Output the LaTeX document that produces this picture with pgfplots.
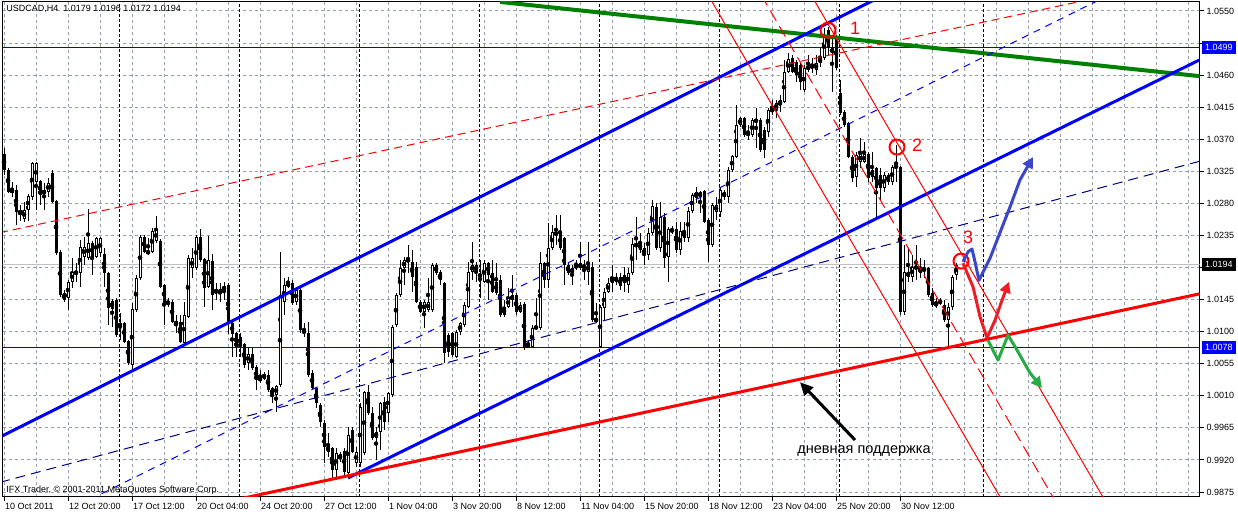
\documentclass[border=0pt]{standalone}
\usepackage{pgfplots}
\pgfplotsset{compat=1.18}
\usepackage{pgfplotstable}
\usepackage{fontspec}
\setmainfont{Liberation Sans}
\usetikzlibrary{arrows.meta}

\definecolor{mtgreen}{RGB}{0,128,0}
\definecolor{lsgray}{RGB}{150,160,175}
\definecolor{navyb}{RGB}{0,0,128}
\definecolor{pricegray}{RGB}{192,192,192}
\definecolor{penblue}{RGB}{60,70,200}
\definecolor{penred}{RGB}{235,30,40}
\definecolor{pengreen}{RGB}{40,170,70}

% USDCAD H4 candles: bar index, open, high, low, close
\pgfplotstableread{
i O H L C
0 1.0349 1.0358 1.0320 1.0327
1 1.0327 1.0330 1.0295 1.0296
2 1.0295 1.0310 1.0289 1.0300
3 1.0299 1.0306 1.0250 1.0268
4 1.0271 1.0278 1.0255 1.0264
5 1.0258 1.0282 1.0254 1.0271
6 1.0271 1.0293 1.0255 1.0290
7 1.0289 1.0338 1.0285 1.0337
8 1.0310 1.0338 1.0271 1.0337
9 1.0311 1.0313 1.0278 1.0292
10 1.0293 1.0309 1.0271 1.0299
11 1.0296 1.0316 1.0289 1.0309
12 1.0323 1.0327 1.0281 1.0282
13 1.0284 1.0285 1.0208 1.0210
14 1.0212 1.0215 1.0149 1.0151
15 1.0154 1.0158 1.0142 1.0144
16 1.0147 1.0172 1.0130 1.0170
17 1.0170 1.0203 1.0161 1.0184
18 1.0181 1.0196 1.0170 1.0184
19 1.0182 1.0229 1.0163 1.0219
20 1.0205 1.0233 1.0194 1.0219
21 1.0203 1.0272 1.0201 1.0224
22 1.0224 1.0227 1.0180 1.0205
23 1.0205 1.0233 1.0203 1.0232
24 1.0210 1.0233 1.0205 1.0232
25 1.0209 1.0217 1.0163 1.0182
26 1.0182 1.0184 1.0109 1.0133
27 1.0143 1.0146 1.0107 1.0132
28 1.0144 1.0147 1.0093 1.0095
29 1.0112 1.0126 1.0088 1.0107
30 1.0112 1.0114 1.0084 1.0086
31 1.0087 1.0088 1.0053 1.0056
32 1.0053 1.0140 1.0043 1.0132
33 1.0130 1.0180 1.0128 1.0175
34 1.0175 1.0236 1.0172 1.0233
35 1.0233 1.0236 1.0210 1.0212
36 1.0213 1.0232 1.0208 1.0210
37 1.0212 1.0246 1.0210 1.0241
38 1.0227 1.0262 1.0224 1.0243
39 1.0227 1.0230 1.0161 1.0163
40 1.0166 1.0167 1.0109 1.0140
41 1.0142 1.0147 1.0135 1.0139
42 1.0142 1.0144 1.0112 1.0114
43 1.0115 1.0123 1.0098 1.0109
44 1.0114 1.0123 1.0084 1.0086
45 1.0084 1.0142 1.0081 1.0123
46 1.0121 1.0208 1.0119 1.0203
47 1.0189 1.0217 1.0175 1.0203
48 1.0189 1.0236 1.0187 1.0233
49 1.0233 1.0244 1.0198 1.0201
50 1.0202 1.0203 1.0135 1.0161
51 1.0163 1.0234 1.0161 1.0201
52 1.0199 1.0209 1.0130 1.0151
53 1.0160 1.0168 1.0144 1.0154
54 1.0153 1.0168 1.0142 1.0160
55 1.0158 1.0170 1.0144 1.0164
56 1.0166 1.0168 1.0097 1.0112
57 1.0112 1.0114 1.0064 1.0097
58 1.0098 1.0100 1.0064 1.0079
59 1.0093 1.0098 1.0064 1.0081
60 1.0083 1.0084 1.0049 1.0053
61 1.0056 1.0079 1.0046 1.0069
62 1.0069 1.0077 1.0046 1.0049
63 1.0050 1.0053 1.0018 1.0032
64 1.0035 1.0046 1.0028 1.0032
65 1.0034 1.0043 1.0032 1.0041
66 1.0039 1.0046 1.0015 1.0018
67 1.0021 1.0022 1.0000 1.0011
68 1.0011 1.0025 0.9987 1.0024
69 1.0025 1.0212 1.0022 1.0151
70 1.0142 1.0175 1.0123 1.0166
71 1.0163 1.0177 1.0161 1.0170
72 1.0168 1.0172 1.0137 1.0140
73 1.0142 1.0163 1.0137 1.0158
74 1.0158 1.0161 1.0098 1.0102
75 1.0102 1.0112 1.0093 1.0098
76 1.0098 1.0114 1.0036 1.0039
77 1.0042 1.0046 1.0018 1.0021
78 1.0021 1.0022 0.9993 1.0000
79 0.9997 1.0000 0.9966 0.9973
80 0.9972 0.9976 0.9916 0.9938
81 0.9940 0.9958 0.9924 0.9931
82 0.9937 0.9938 0.9895 0.9906
83 0.9906 0.9937 0.9892 0.9930
84 0.9921 0.9931 0.9917 0.9928
85 0.9933 0.9937 0.9899 0.9903
86 0.9902 0.9966 0.9896 0.9955
87 0.9962 0.9966 0.9930 0.9931
88 0.9916 0.9938 0.9910 0.9931
89 0.9916 1.0000 0.9910 0.9994
90 0.9930 1.0017 0.9927 1.0015
91 1.0015 1.0025 0.9983 0.9986
92 0.9986 0.9994 0.9948 0.9951
93 0.9951 0.9966 0.9920 0.9959
94 0.9959 1.0001 0.9934 1.0000
95 1.0001 1.0008 0.9962 0.9973
96 0.9986 1.0015 0.9973 1.0014
97 1.0011 1.0109 1.0008 1.0107
98 1.0109 1.0154 1.0107 1.0151
99 1.0151 1.0201 1.0149 1.0189
100 1.0189 1.0205 1.0166 1.0201
101 1.0202 1.0222 1.0182 1.0198
102 1.0198 1.0215 1.0156 1.0177
103 1.0191 1.0198 1.0140 1.0142
104 1.0142 1.0144 1.0126 1.0128
105 1.0128 1.0144 1.0105 1.0142
106 1.0130 1.0175 1.0128 1.0142
107 1.0130 1.0196 1.0128 1.0194
108 1.0194 1.0196 1.0180 1.0182
109 1.0184 1.0187 1.0166 1.0172
110 1.0168 1.0170 1.0056 1.0070
111 1.0095 1.0098 1.0064 1.0072
112 1.0098 1.0100 1.0064 1.0067
113 1.0064 1.0102 1.0063 1.0100
114 1.0100 1.0114 1.0095 1.0112
115 1.0109 1.0142 1.0107 1.0137
116 1.0135 1.0198 1.0133 1.0184
117 1.0184 1.0226 1.0172 1.0194
118 1.0194 1.0198 1.0170 1.0184
119 1.0177 1.0201 1.0147 1.0181
120 1.0170 1.0201 1.0168 1.0196
121 1.0196 1.0198 1.0144 1.0180
122 1.0182 1.0201 1.0154 1.0156
123 1.0170 1.0196 1.0151 1.0154
124 1.0172 1.0180 1.0121 1.0123
125 1.0135 1.0144 1.0121 1.0123
126 1.0135 1.0161 1.0133 1.0147
127 1.0144 1.0180 1.0135 1.0151
128 1.0151 1.0154 1.0123 1.0128
129 1.0128 1.0142 1.0126 1.0137
130 1.0139 1.0142 1.0074 1.0077
131 1.0081 1.0088 1.0077 1.0079
132 1.0079 1.0109 1.0077 1.0105
133 1.0105 1.0147 1.0102 1.0107
134 1.0105 1.0212 1.0102 1.0196
135 1.0196 1.0198 1.0161 1.0172
136 1.0172 1.0253 1.0161 1.0217
137 1.0217 1.0250 1.0215 1.0240
138 1.0239 1.0264 1.0222 1.0236
139 1.0239 1.0264 1.0215 1.0217
140 1.0232 1.0233 1.0166 1.0194
141 1.0194 1.0198 1.0180 1.0182
142 1.0182 1.0194 1.0166 1.0189
143 1.0189 1.0201 1.0187 1.0194
144 1.0189 1.0226 1.0187 1.0196
145 1.0194 1.0201 1.0172 1.0189
146 1.0184 1.0226 1.0166 1.0194
147 1.0191 1.0198 1.0114 1.0116
148 1.0119 1.0140 1.0112 1.0114
149 1.0079 1.0137 1.0077 1.0135
150 1.0133 1.0161 1.0116 1.0156
151 1.0156 1.0175 1.0154 1.0168
152 1.0168 1.0194 1.0156 1.0177
153 1.0177 1.0182 1.0166 1.0170
154 1.0177 1.0182 1.0158 1.0164
155 1.0180 1.0191 1.0156 1.0168
156 1.0166 1.0189 1.0154 1.0182
157 1.0182 1.0232 1.0180 1.0223
158 1.0219 1.0261 1.0201 1.0224
159 1.0224 1.0239 1.0210 1.0215
160 1.0217 1.0224 1.0194 1.0208
161 1.0208 1.0246 1.0201 1.0239
162 1.0239 1.0285 1.0236 1.0276
163 1.0275 1.0281 1.0215 1.0217
164 1.0217 1.0282 1.0212 1.0261
165 1.0261 1.0267 1.0189 1.0203
166 1.0205 1.0247 1.0170 1.0244
167 1.0244 1.0248 1.0237 1.0240
168 1.0244 1.0254 1.0210 1.0215
169 1.0215 1.0254 1.0208 1.0241
170 1.0241 1.0254 1.0226 1.0232
171 1.0232 1.0275 1.0226 1.0269
172 1.0269 1.0295 1.0267 1.0292
173 1.0288 1.0303 1.0281 1.0296
174 1.0289 1.0297 1.0267 1.0296
175 1.0297 1.0299 1.0253 1.0254
176 1.0257 1.0260 1.0198 1.0222
177 1.0222 1.0281 1.0219 1.0278
178 1.0268 1.0289 1.0257 1.0278
179 1.0268 1.0302 1.0261 1.0299
180 1.0289 1.0299 1.0285 1.0296
181 1.0289 1.0331 1.0281 1.0327
182 1.0327 1.0348 1.0324 1.0346
183 1.0345 1.0418 1.0344 1.0390
184 1.0390 1.0401 1.0387 1.0400
185 1.0400 1.0401 1.0373 1.0376
186 1.0379 1.0390 1.0369 1.0376
187 1.0376 1.0400 1.0373 1.0397
188 1.0398 1.0414 1.0358 1.0394
189 1.0397 1.0400 1.0352 1.0355
190 1.0383 1.0387 1.0344 1.0355
191 1.0380 1.0414 1.0373 1.0411
192 1.0408 1.0425 1.0404 1.0414
193 1.0411 1.0425 1.0400 1.0421
194 1.0418 1.0432 1.0408 1.0425
195 1.0422 1.0481 1.0421 1.0464
196 1.0464 1.0491 1.0463 1.0483
197 1.0484 1.0488 1.0463 1.0464
198 1.0478 1.0481 1.0450 1.0460
199 1.0474 1.0477 1.0439 1.0450
200 1.0439 1.0474 1.0436 1.0470
201 1.0467 1.0488 1.0464 1.0474
202 1.0470 1.0484 1.0463 1.0474
203 1.0467 1.0488 1.0460 1.0477
204 1.0477 1.0498 1.0471 1.0484
205 1.0484 1.0526 1.0481 1.0516
206 1.0523 1.0528 1.0488 1.0498
207 1.0491 1.0516 1.0436 1.0498
208 1.0512 1.0516 1.0467 1.0470
209 1.0435 1.0453 1.0404 1.0407
210 1.0408 1.0411 1.0387 1.0390
211 1.0393 1.0394 1.0344 1.0345
212 1.0345 1.0348 1.0310 1.0316
213 1.0317 1.0352 1.0303 1.0348
214 1.0338 1.0372 1.0330 1.0349
215 1.0338 1.0366 1.0337 1.0349
216 1.0349 1.0352 1.0310 1.0316
217 1.0327 1.0352 1.0310 1.0317
218 1.0330 1.0331 1.0260 1.0302
219 1.0320 1.0330 1.0285 1.0302
220 1.0302 1.0324 1.0296 1.0320
221 1.0320 1.0323 1.0306 1.0310
222 1.0310 1.0334 1.0306 1.0331
223 1.0330 1.0362 1.0310 1.0333
224 1.0331 1.0333 1.0123 1.0128
225 1.0128 1.0222 1.0123 1.0184
226 1.0177 1.0217 1.0170 1.0184
227 1.0177 1.0208 1.0170 1.0191
228 1.0189 1.0222 1.0172 1.0191
229 1.0191 1.0203 1.0175 1.0182
230 1.0185 1.0201 1.0175 1.0189
231 1.0189 1.0191 1.0149 1.0151
232 1.0154 1.0161 1.0135 1.0137
233 1.0140 1.0147 1.0133 1.0137
234 1.0140 1.0147 1.0137 1.0144
235 1.0137 1.0144 1.0114 1.0116
236 1.0116 1.0140 1.0077 1.0135
237 1.0135 1.0180 1.0130 1.0177
238 1.0179 1.0196 1.0172 1.0194
}\candles

\begin{document}
\begin{tikzpicture}
\begin{axis}[
  at={(0,0)}, anchor=south west,
  scale only axis, width=1196.8pt, height=495.5pt,
  xmin=-0.325, xmax=298.875, ymin=0.98680, ymax=1.05633,
  clip mode=individual,
  axis line style={black, line width=1pt},
  tick align=outside, xtick pos=left, ytick pos=right, yticklabel pos=right,
  major tick length=4pt, minor tick length=0pt,
  tick style={black, line width=1pt},
  xtick={0,16,...,224},
  minor xtick={8,24,40,56,72,88,104,120,136,152,168,184,200,216,232,240,248,256,264,272,280,288,296},
  xticklabels={10 Oct 2011,12 Oct 20:00,17 Oct 12:00,20 Oct 04:00,24 Oct 20:00,27 Oct 12:00,1 Nov 04:00,3 Nov 20:00,8 Nov 12:00,11 Nov 04:00,15 Nov 20:00,18 Nov 12:00,23 Nov 04:00,25 Nov 20:00,30 Nov 12:00},
  ytick={0.9875,0.9920,0.9965,1.0010,1.0055,1.0100,1.0145,1.0190,1.0235,1.0280,1.0325,1.0370,1.0415,1.0460,1.0505,1.0550},
  yticklabels={0.9875,0.9920,0.9965,1.0010,1.0055,1.0100,1.0145,{},1.0235,1.0280,1.0325,1.0370,1.0415,1.0460,{},1.0550},
  grid=both,
  major grid style={lsgray, dash pattern=on 3pt off 3pt, line width=1pt},
  minor grid style={lsgray, dash pattern=on 3pt off 3pt, line width=1pt},
  extra x ticks={28.75,58.75,88.75,118.75,148.75,178.75,208.75,244.75},
  extra x tick labels={},
  extra x tick style={grid=major, major tick length=0pt,
    major grid style={black, dash pattern=on 3pt off 2pt, line width=1pt}},
  ticklabel style={font=\fontsize{9}{10}\selectfont},
  xticklabel style={anchor=north west, inner sep=0pt, xshift=1pt, yshift=-2pt},
  yticklabel style={anchor=west, inner sep=0pt, xshift=3pt},
]

% price levels
\addplot[pricegray, line width=1pt] coordinates {(-1,1.0194) (300,1.0194)};
\addplot[blue, line width=1pt] coordinates {(-1,1.0499) (300,1.0499)};
\addplot[blue, line width=1pt] coordinates {(-1,1.0078) (300,1.0078)};

% wicks
\addplot[only marks, mark=none, error bars/.cd, y dir=both, y explicit, error mark=none,
  error bar style={draw=black, solid, line width=1pt}]
  table[x=i, y expr={(\thisrow{H}+\thisrow{L})/2}, y error expr={(\thisrow{H}-\thisrow{L})/2}] {\candles};
% bodies
\addplot[only marks, mark=none, error bars/.cd, y dir=both, y explicit, error mark=none,
  error bar style={draw=black, solid, line width=3pt}]
  table[x=i, y expr={(\thisrow{O}+\thisrow{C})/2}, y error expr={max(abs(\thisrow{C}-\thisrow{O})/2,0.00008)}] {\candles};
% hollow inside of rising candles
\addplot[only marks, mark=none, error bars/.cd, y dir=both, y explicit, error mark=none,
  error bar style={draw=white, solid, line width=1pt}]
  table[x=i, y expr={(\thisrow{O}+\thisrow{C})/2}, y error expr={max((\thisrow{C}-\thisrow{O})/2-0.00014,0)}] {\candles};

% trend lines
\addplot[mtgreen, line width=4pt] coordinates {(124,1.05627) (304,1.04555)};
\addplot[blue, line width=3pt] coordinates {(-3.5,0.99451) (219,1.05696)};
\addplot[blue, line width=3pt] coordinates {(86,0.98947) (301.5,1.04885)};
\addplot[blue, line width=1pt, dash pattern=on 7pt off 6pt] coordinates {(21.5,0.98645) (274,1.05661)};
\addplot[navyb, line width=1pt, dash pattern=on 10pt off 6pt] coordinates {(-1,0.98886) (301.5,1.03430)};
\addplot[red, line width=1pt, dash pattern=on 8pt off 5pt] coordinates {(-1,1.02390) (269,1.05633)};
\addplot[red, line width=3pt] coordinates {(59,0.98654) (301.5,1.01562)};
\addplot[red, line width=1pt] coordinates {(176.03,1.05724) (249.9,0.98595)};
\addplot[red, line width=1pt, dash pattern=on 12pt off 6pt] coordinates {(189.3,1.05724) (263.1,0.98595)};
\addplot[red, line width=1pt] coordinates {(201.8,1.05724) (275.6,0.98595)};

% hand drawn marks
\addplot[red, only marks, mark=o, mark size=7.5pt, mark options={line width=2pt}]
  coordinates {(206,1.0523) (223.25,1.0359) (239.25,1.0199)};
\addplot[penblue, line width=3pt, line join=round, -{Triangle[length=11pt,width=11pt]}]
  coordinates {(239.75,1.0198) (241,1.0212) (242,1.0216) (242.75,1.0198) (243.75,1.0172) (246.5,1.0203) (249,1.0239) (251.5,1.0275) (254,1.0313) (257.25,1.0345)};
\addplot[penred, line width=3pt, line join=round, -{Triangle[length=11pt,width=11pt]}]
  coordinates {(239.75,1.0196) (242.25,1.0163) (244,1.0121) (245.75,1.0091) (247.75,1.0116) (249.5,1.0144) (251.25,1.0170)};
\addplot[pengreen, line width=3pt, line join=round, -{Triangle[length=11pt,width=11pt]}]
  coordinates {(246,1.0088) (248.5,1.0060) (251,1.0095) (252.75,1.0079) (256.5,1.0042) (259.5,1.0021)};
\addplot[black, line width=3pt, -{Triangle[length=13pt,width=12pt]}]
  coordinates {(212.75,0.9948) (199,1.0029)};

\node[red, font=\fontsize{18}{20}\selectfont] at (axis cs:212.75,1.0526) {1};
\node[red, font=\fontsize{18}{20}\selectfont] at (axis cs:228.25,1.0362) {2};
\node[red, font=\fontsize{18}{20}\selectfont] at (axis cs:241,1.0233) {3};
\node[font=\fontsize{14.5}{16}\selectfont] at (axis cs:215,0.99326) {дневная поддержка};

\node[anchor=north west, inner sep=0pt, font=\fontsize{9}{10}\selectfont]
  at ([xshift=3.5pt,yshift=-4pt]rel axis cs:0,1) {USDCAD,H4\ \ 1.0179 1.0196 1.0172 1.0194};
\node[anchor=base west, inner sep=0pt, font=\fontsize{9}{10}\selectfont]
  at ([xshift=3.5pt,yshift=4pt]rel axis cs:0,0) {IFX Trader, © 2001-2011 MetaQuotes Software Corp.};

% price tags on the scale
\node[fill=blue, text=white, anchor=west, inner xsep=3pt, inner ysep=0pt, minimum height=13pt,
  font=\fontsize{9}{10}\selectfont] at ([xshift=2.5pt]axis cs:298.875,1.0499) {1.0499};
\node[fill=black, text=white, anchor=west, inner xsep=3pt, inner ysep=0pt, minimum height=13pt,
  font=\fontsize{9}{10}\selectfont] at ([xshift=2.5pt]axis cs:298.875,1.0194) {1.0194};
\node[fill=blue, text=white, anchor=west, inner xsep=3pt, inner ysep=0pt, minimum height=13pt,
  font=\fontsize{9}{10}\selectfont] at ([xshift=2.5pt]axis cs:298.875,1.0078) {1.0078};
\end{axis}
\pgfresetboundingbox
\path[use as bounding box] ([xshift=-2.7pt,yshift=-17pt]current axis.south west)
  rectangle ([xshift=38.5pt,yshift=1.5pt]current axis.north east);
\end{tikzpicture}
\end{document}
